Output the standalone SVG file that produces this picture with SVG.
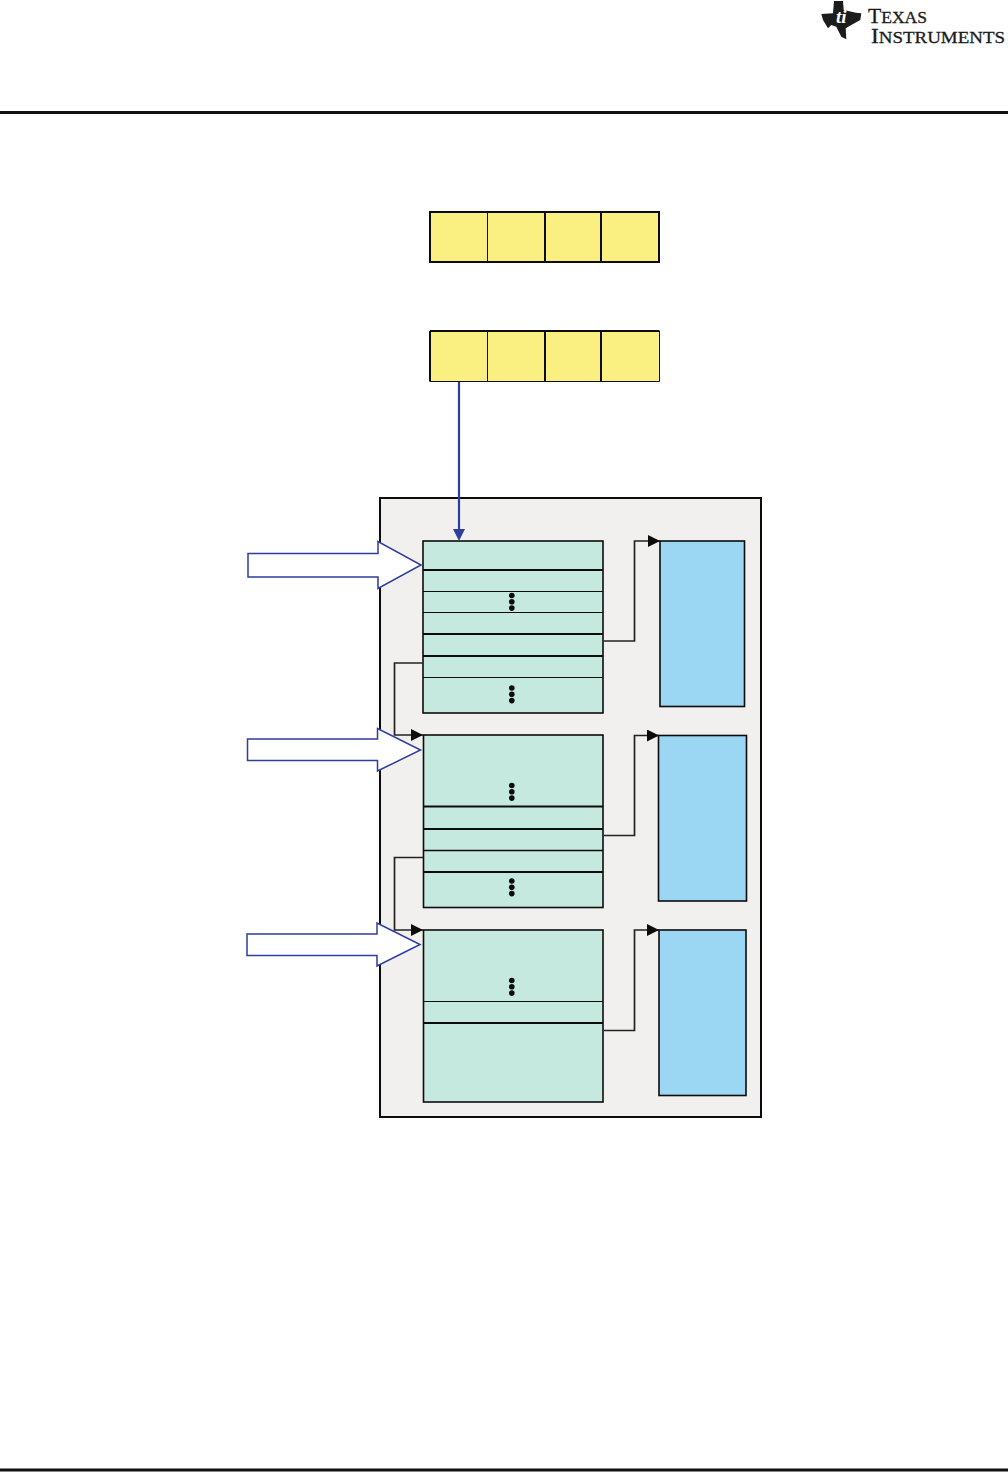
<svg xmlns="http://www.w3.org/2000/svg" width="1008" height="1472" viewBox="0 0 1008 1472">
<defs>
<style>
.rule{stroke:#111;stroke-width:3;fill:none}
.reg{fill:#faf082;stroke:none}
.k{stroke:#0c0c0c;fill:none}
.tbl{fill:#c5e9df;stroke:#0c0c0c;stroke-width:1.600}
.mem{fill:#9bd7f2;stroke:#0c0c0c;stroke-width:1.600}
.wire{stroke:#222;stroke-width:1.700;fill:none}
.big{fill:#fff;stroke:#2f3d9c;stroke-width:1.500}
.dot{fill:#0c0c0c}
.logo{font-family:"Liberation Serif",serif;fill:#1a1a1a;stroke:#1a1a1a;stroke-width:.3}
</style>
<marker id="ah" markerUnits="userSpaceOnUse" markerWidth="13" markerHeight="12" refX="12" refY="6" orient="auto"><path d="M0 0L12 6L0 12Z" fill="#0c0c0c"/></marker>
<g id="dots"><circle cx="0" cy="0" r="2.800" class="dot"/><circle cx="0" cy="6.300" r="2.800" class="dot"/><circle cx="0" cy="12.600" r="2.800" class="dot"/></g>
</defs>
<rect width="1008" height="1472" fill="#fff"/>
<g id="header">
<path class="rule" d="M0 112.500H1008"/>
<path class="rule" d="M0 1470H1008"/>
</g>
<g id="logo">
<path d="M821.300 14L833 13.300L834 1H843L843.700 10L856 12.700L861.300 13.300L860.300 20L851.300 25L845.700 28.300L846.300 39.300L841.300 36.700L836.300 26.700L831.300 25L828 28.300L823 20Z" fill="#1c1c1c"/>
<text x="836" y="23" font-family="Liberation Serif, serif" font-style="italic" font-weight="700" font-size="19" fill="#fff">ti</text>
<text class="logo" x="868" y="23" font-size="21" textLength="59" lengthAdjust="spacingAndGlyphs">T<tspan font-size="17">EXAS</tspan></text>
<text class="logo" x="871" y="43" font-size="21" textLength="134" lengthAdjust="spacingAndGlyphs">I<tspan font-size="17">NSTRUMENTS</tspan></text>
</g>
<g id="register-top">
<rect class="reg" x="430" y="212" width="229" height="50"/>
<path class="k" stroke-width="2" d="M430 212H659V262H430Z"/>
<path class="k" stroke-width="1" d="M487.500 212V262"/><path class="k" stroke-width="2" d="M545 212V262M601 212V262"/>
</g>
<g id="register-bottom">
<rect class="reg" x="430" y="331" width="229" height="50"/>
<path class="k" stroke-width="2" d="M430 331H659.500"/><path class="k" stroke-width="1" d="M430 381.500H659.500M659.500 331V381.500"/><path class="k" stroke-width="2" d="M430 331V381.500"/>
<path class="k" stroke-width="1" d="M487.500 331V381"/><path class="k" stroke-width="2" d="M545 331V381M601 331V381"/>
</g>
<g id="container"><rect x="380" y="498" width="381" height="619" fill="#f1f0ee" stroke="#0c0c0c" stroke-width="2"/></g>
<g id="table-1">
<rect class="tbl" x="423" y="541" width="180" height="172"/>
<path class="k" stroke-width="2" d="M423 570H603M423 634H603M423 656H603"/>
<path class="k" stroke-width="1.200" d="M423 591.500H603M423 612.500H603M423 677.500H603"/>
<use href="#dots" x="511.800" y="595.500"/><use href="#dots" x="511.800" y="688"/>
</g>
<g id="table-2">
<rect class="tbl" x="423.500" y="735" width="179.500" height="172.500" stroke-width="2"/>
<path class="k" stroke-width="1.300" d="M423 850.500H603"/>
<path class="k" stroke-width="2" d="M423 806.500H603M423 829H603M423 872H603"/>
<use href="#dots" x="511.800" y="785.500"/><use href="#dots" x="511.800" y="881"/>
</g>
<g id="table-3">
<rect class="tbl" x="423.500" y="930" width="179.500" height="172"/>
<path class="k" stroke-width="1.200" d="M423 1001.500H603"/>
<path class="k" stroke-width="2" d="M423 1023H603"/>
<use href="#dots" x="511.800" y="980.500"/>
</g>
<g id="memory-1"><rect class="mem" x="660" y="541" width="84.500" height="165.500"/></g>
<g id="memory-2"><rect class="mem" x="658.500" y="735.500" width="88" height="165.500"/></g>
<g id="memory-3"><rect class="mem" x="659" y="930" width="87" height="165.500"/></g>
<g id="connectors">
<path d="M459 382V530" stroke="#2f3d9c" stroke-width="2.200" fill="none"/>
<path d="M453 529H465L459 541Z" fill="#2f3d9c"/>
<path class="wire" marker-end="url(#ah)" d="M604 641H634.500V541H660"/>
<path class="wire" marker-end="url(#ah)" d="M604 835.500H634.500V735.500H659"/>
<path class="wire" marker-end="url(#ah)" d="M604 1030.500H634.500V930H659"/>
<path class="wire" marker-end="url(#ah)" d="M423 663H394.500V735H423"/>
<path class="wire" marker-end="url(#ah)" d="M423 857.500H394.500V930H423"/>
<path class="big" d="M248 553.500H378V541.500L421 565L378 588.500V577H248Z"/>
<path class="big" d="M247.500 739H377.500V728.500L420.500 750L377.500 771V760.500H247.500Z"/>
<path class="big" d="M247 934H377V923L420 944.500L377 966V955.500H247Z"/>
</g>
</svg>
